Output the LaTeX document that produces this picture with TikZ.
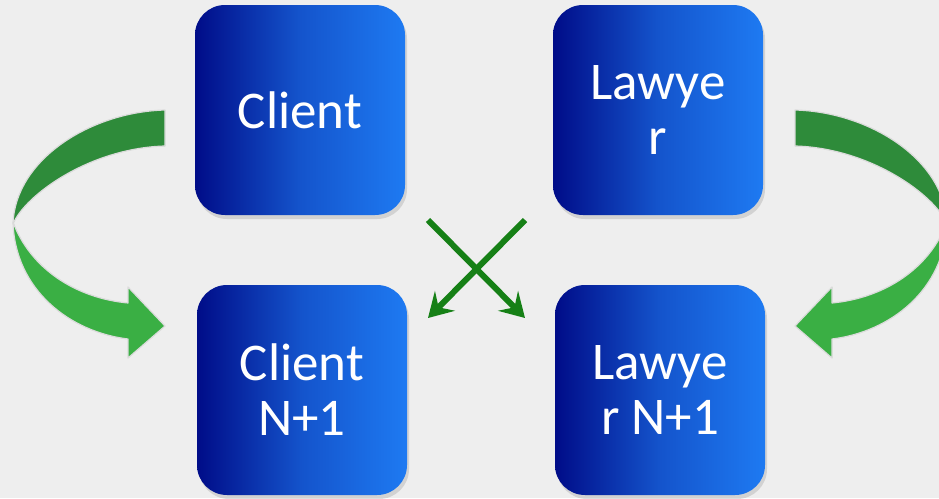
\documentclass[tikz,border=0pt]{standalone}
\usepackage{fontspec}
\setmainfont{Carlito}
\usetikzlibrary{arrows.meta,shadows}

\definecolor{navyblue}{RGB}{0,12,136}
\definecolor{midblue}{RGB}{20,84,204}
\definecolor{skyblue}{RGB}{30,122,242}
\definecolor{darkgreen}{RGB}{46,139,58}
\definecolor{lightgreen}{RGB}{58,175,68}
\definecolor{crossgreen}{RGB}{22,128,22}
\definecolor{paper}{RGB}{238,238,238}

\begin{document}
\begin{tikzpicture}[
        x = 1pt, y = -1pt,
        line join=round,
        party/.style = {rounded corners=30pt, minimum width=210pt, minimum height=210pt,
            left color=navyblue, right color=skyblue, middle color=midblue,
            text=white, align=center, font=\fontsize{53}{55}\selectfont,
            drop shadow={shadow xshift=2pt, shadow yshift=-4pt, opacity=0.25}},
        bandedge/.style = {draw=black!14, line width=1.2pt},
        crossarrow/.style = {crossgreen, line width=6pt, -{Stealth[length=24pt, width=28pt, inset=9pt]}}
    ]
        \useasboundingbox (0,0) rectangle (939,498);
        \clip (0,0) rectangle (939,498);
        \fill[paper] (0,0) rectangle (939,498);

        % loop arrows, the right one is the mirror of the left one
        \foreach \flip/\shift in {1/0, -1/960} {
            \begin{scope}[xshift=\shift pt, xscale=\flip]
                \path[fill=darkgreen, bandedge] (165,110) .. controls (90,112) and (15,160) .. (13,224)
                    .. controls (25,195) and (90,148) .. (165,146) -- cycle;
                \path[fill=lightgreen, bandedge] (13,222) .. controls (15,290) and (70,332) .. (128,339)
                    -- (128,358) -- (165,326) -- (128,287) -- (128,303)
                    .. controls (75,298) and (30,268) .. (13,222) -- cycle;
            \end{scope}
        }

        \node[party] (client) at (300,110) {Client};
        \node[party] (lawyer) at (658,110) {Lawye\\r};
        \node[party] (clientnext) at (302,390) {Client\\N+1};
        \node[party] (lawyernext) at (660,390) {Lawye\\r N+1};

        \coordinate (crossA) at (428,220);
        \coordinate (crossB) at (525,220);
        \coordinate (crossC) at (428,318);
        \coordinate (crossD) at (525,318);

        \draw[crossarrow] (crossA) -- (crossD);
        \draw[crossarrow] (crossB) -- (crossC);

    \end{tikzpicture}
\end{document}
